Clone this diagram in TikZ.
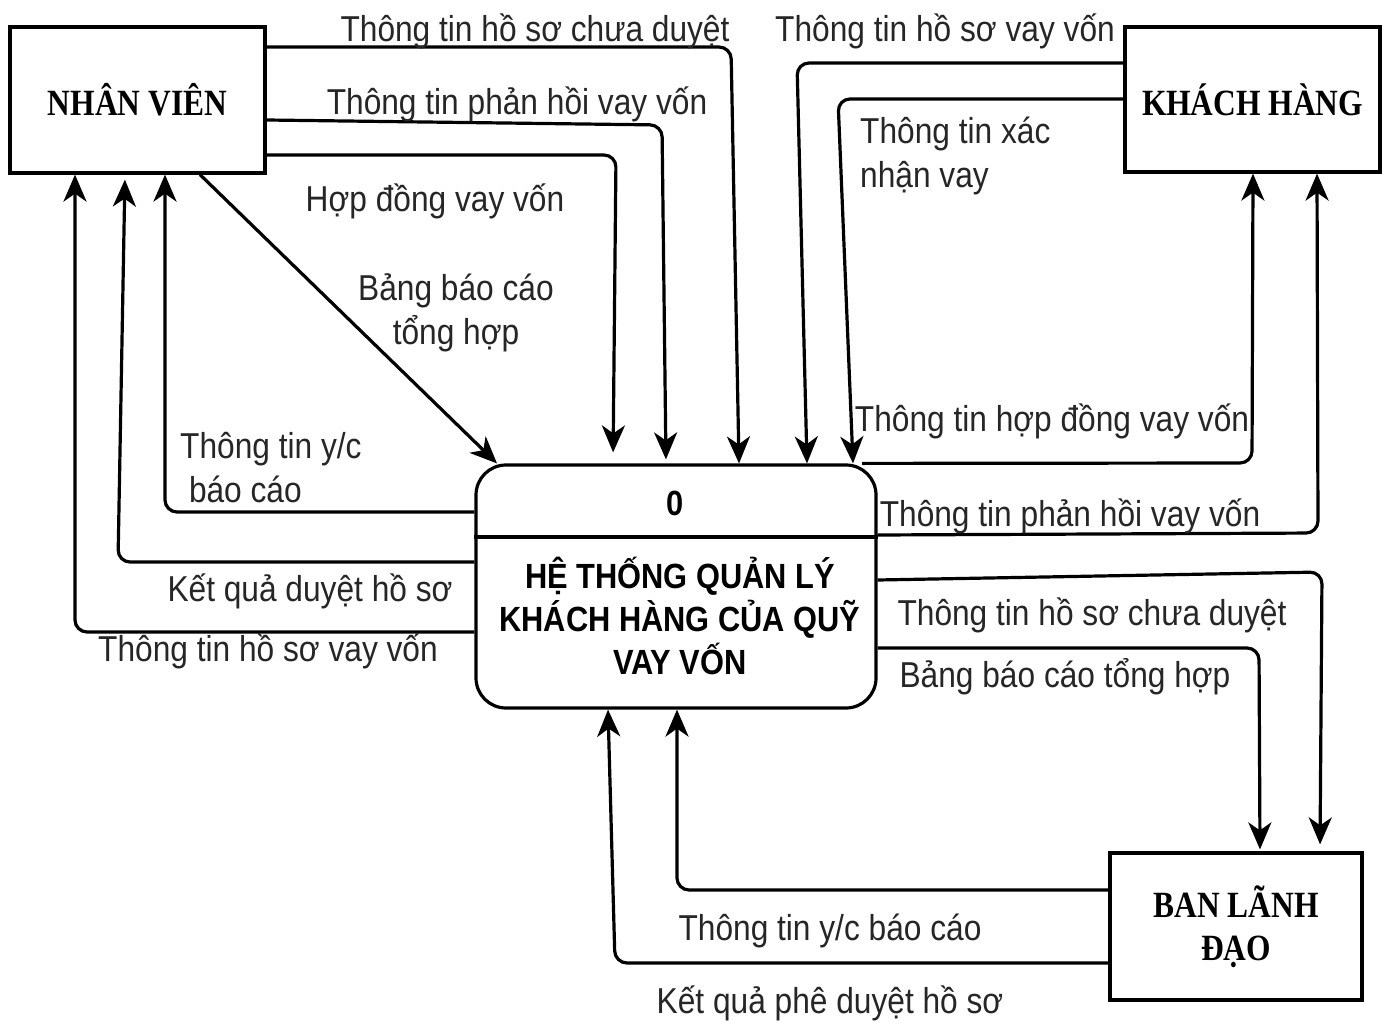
\documentclass[tikz,border=0pt]{standalone}
\usepackage{fontspec}
\setmainfont{Liberation Sans}
\newfontfamily\lblfont[FakeStretch=0.88]{Liberation Sans}
\newfontfamily\entfont[FakeStretch=0.85]{Liberation Serif}
\usetikzlibrary{arrows.meta}

\tikzset{
  flowtip/.tip={Stealth[length=27pt,width=23pt,inset=8pt]},
}

\begin{document}
\begin{tikzpicture}[x=1pt,y=-1pt,
  flow/.style={line width=3.2pt, rounded corners=12pt, line join=round, -flowtip},
  lbl/.style={font=\lblfont\fontsize{36}{44}\selectfont, inner sep=0pt, text=black!85, align=center},
  entity/.style={draw, line width=3.2pt, font=\entfont\bfseries\fontsize{37}{43}\selectfont, align=center},
  proctext/.style={font=\lblfont\bfseries\fontsize{35}{43}\selectfont, inner sep=0pt, align=center},
]
\useasboundingbox (0,0) rectangle (1386,1024);
\fill[white] (0,0) rectangle (1386,1024);

% external entities
\node[entity, minimum width=255pt, minimum height=146pt] (nv) at (137.5,100) {NHÂN VIÊN};
\node[entity, minimum width=255pt, minimum height=145pt] (kh) at (1252.5,99.5) {KHÁCH HÀNG};
\node[entity, minimum width=252pt, minimum height=147pt] (bld) at (1236,926.5) {BAN LÃNH\\ĐẠO};

% process 0
\node[draw, line width=3.2pt, rounded corners=30pt, minimum width=400pt, minimum height=243pt] (proc) at (676,586.5) {};
\draw[line width=3.2pt] (proc.west |- 0,537) -- (proc.east |- 0,537);
\node[proctext] (pnum) at (675,503) {0};
\node[proctext] (pname) at (680,616) {HỆ THỐNG QUẢN LÝ\\KHÁCH HÀNG CỦA QUỸ\\VAY VỐN};

% flows from NHÂN VIÊN
\draw[flow] (nv.east |- 0,47) -- (731,47) -- (proc.north -| 739,0);
\draw[flow, shorten >=4pt] (nv.east |- 0,120) -- (662,125) -- (proc.north -| 666,0);
\draw[flow, shorten >=11pt] (nv.east |- 0,155) -- (616,155) -- (proc.north -| 613,0);
\draw[flow] (nv.south -| 200,0) -- (proc.north -| 497,0);

% flows to NHÂN VIÊN
\draw[flow] (proc.west |- 0,512) -- (165,512) -- (nv.south -| 165,0);
\draw[flow, shorten >=5pt] (proc.west |- 0,562) -- (118,562) -- (nv.south -| 125,0);
\draw[flow] (proc.west |- 0,632) -- (75,632) -- (nv.south -| 75,0);

% flows from KHÁCH HÀNG
\draw[flow] (kh.west |- 0,63) -- (797,63) -- (proc.north -| 807,0);
\draw[flow] (kh.west |- 0,99) -- (838,99) -- (proc.north -| 853,0);

% flows to KHÁCH HÀNG
\draw[flow] (proc.north -| 862,0) -- (1252,463) -- (kh.south -| 1253,0);
\draw[flow] (proc.east |- 0,535) -- (1318,533) -- (kh.south -| 1317,0);

% flows to BAN LÃNH ĐẠO
\draw[flow, shorten >=7pt] (proc.east |- 0,580) -- (1322,572) -- (bld.north -| 1320,0);
\draw[flow, shorten >=2pt] (proc.east |- 0,648) -- (1259,648) -- (bld.north -| 1260,0);

% flows from BAN LÃNH ĐẠO
\draw[flow] (bld.west |- 0,890) -- (677,890) -- (proc.south -| 677,0);
\draw[flow] (bld.west |- 0,963) -- (615,963) -- (proc.south -| 608,0);

% labels
\node[lbl] (l1) at (535,31) {Thông tin hồ sơ chưa duyệt};
\node[lbl] (l2) at (517,104) {Thông tin phản hồi vay vốn};
\node[lbl] (l3) at (435,201) {Hợp đồng vay vốn};
\node[lbl] (l4) at (456,313) {Bảng báo cáo\\tổng hợp};
\node[lbl, align=left, anchor=west] (l5) at (180,468) {Thông tin y/c\\\ báo cáo};
\node[lbl] (l6) at (310,591) {Kết quả duyệt hồ sơ};
\node[lbl] (l7) at (268,651) {Thông tin hồ sơ vay vốn};
\node[lbl] (l8) at (945,31) {Thông tin hồ sơ vay vốn};
\node[lbl, align=left, anchor=west] (l9) at (860,156) {Thông tin xác\\nhận vay};
\node[lbl] (l10) at (1052,421) {Thông tin hợp đồng vay vốn};
\node[lbl] (l11) at (1070,516) {Thông tin phản hồi vay vốn};
\node[lbl] (l12) at (1092,615) {Thông tin hồ sơ chưa duyệt};
\node[lbl] (l13) at (1065,677) {Bảng báo cáo tổng hợp};
\node[lbl] (l14) at (830,931) {Thông tin y/c báo cáo};
\node[lbl] (l15) at (830,1003) {Kết quả phê duyệt hồ sơ};
\end{tikzpicture}
\end{document}
